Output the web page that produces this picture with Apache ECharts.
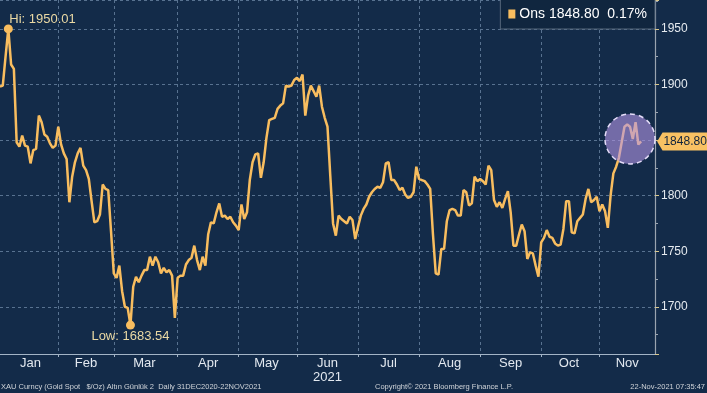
<!DOCTYPE html>
<html><head><meta charset="utf-8">
<script src="https://cdn.jsdelivr.net/npm/echarts@6/dist/echarts.min.js"></script>
<style>html,body{margin:0;padding:0;background:#132b49;} #c{width:707px;height:393px;}</style>
</head><body><div id="c"></div>
<script>
// ---- data (XAU spot, daily, weekdays) ----
const seriesName = 'Ons';
const dec2020 = [1898];
const jan = [1899, 1925, 1950.01, 1918, 1914, 1848, 1844, 1854, 1845, 1844, 1829, 1841, 1842, 1872, 1866, 1855, 1853, 1847, 1843, 1845];
const feb = [1862, 1846, 1838, 1833, 1794, 1817, 1830, 1838, 1843, 1827, 1823, 1815, 1795, 1776, 1777, 1783, 1810, 1806, 1805, 1768];
const mar = [1730, 1726, 1737, 1714, 1700, 1699, 1683.54, 1718, 1727, 1722, 1728, 1733, 1733, 1745, 1737, 1745, 1740, 1730, 1735, 1731, 1733, 1728, 1690];
const apr = [1726, 1728, 1728, 1738, 1742, 1744, 1755, 1742, 1733, 1745, 1737, 1765, 1776, 1775, 1785, 1793, 1781, 1782, 1779, 1781, 1776, 1773];
const may = [1769, 1792, 1779, 1785, 1814, 1830, 1837, 1838, 1816, 1830, 1852, 1868, 1869, 1870, 1878, 1881, 1883, 1899, 1898, 1899, 1904];
const jun = [1906, 1903, 1909, 1872, 1890, 1899, 1894, 1889, 1899, 1880, 1870, 1862, 1818, 1775, 1764, 1782, 1779, 1777, 1775, 1781, 1778, 1761];
const jul = [1772, 1782, 1788, 1792, 1799, 1803, 1806, 1808, 1807, 1812, 1829, 1830, 1814, 1814, 1810, 1805, 1807, 1801, 1798, 1799, 1803, 1826];
const aug = [1815, 1814, 1813, 1810, 1806, 1765, 1730, 1729, 1752, 1752, 1777, 1787, 1788, 1787, 1782, 1782, 1805, 1803, 1791, 1793, 1817, 1813];
const sep = [1815, 1813, 1810, 1827, 1823, 1796, 1790, 1794, 1789, 1797, 1804, 1785, 1755, 1755, 1765, 1774, 1768, 1743, 1749, 1748, 1737, 1727];
const oct = [1758, 1762, 1769, 1763, 1762, 1757, 1755, 1756, 1770, 1795, 1795, 1767, 1766, 1777, 1780, 1783, 1797, 1806, 1794, 1796, 1799];
const nov = [1786, 1792, 1786, 1771, 1800, 1820, 1826, 1834, 1848, 1862, 1864, 1862, 1851, 1866, 1846, 1848.80];
const monthNames = ['Jan','Feb','Mar','Apr','May','Jun','Jul','Aug','Sep','Oct','Nov'];
const yearLabel = '2021';
const pctChange = '0.17%';
const highlightDate = '2021-11-16';
const highlightValue = 1851;
const footerLeft = 'XAU Curncy (Gold Spot   $/Oz) Altın Günlük 2  Daily 31DEC2020-22NOV2021';
const footerMid = 'Copyright\u00A9 2021 Bloomberg Finance L.P.';
const footerRight = '22-Nov-2021 07:35:47';
const holidays = ['2021-01-01'];

// ---- categories: weekdays 31DEC2020 .. 29NOV2021 ----
const categories = [];
for (let d = Date.UTC(2020,11,31); d <= Date.UTC(2021,10,29); d += 86400000) {
  const dt = new Date(d), wd = dt.getUTCDay();
  if (wd === 0 || wd === 6) continue;
  const s = dt.toISOString().slice(0,10);
  if (holidays.includes(s)) continue;
  categories.push(s);
}
const values = [].concat(dec2020, jan, feb, mar, apr, may, jun, jul, aug, sep, oct, nov);
const lastIdx = values.length - 1;
const lastValue = values[lastIdx];

// month boundaries and label positions
const monthRange = {};
categories.forEach((c, i) => {
  const k = c.slice(0,7);
  if (!monthRange[k]) monthRange[k] = [i, i]; else monthRange[k][1] = i;
});
const boundarySet = new Set();
const labelMap = new Map();
Object.keys(monthRange).forEach(k => {
  if (!k.startsWith('2021')) return;
  const m = parseInt(k.slice(5,7), 10) - 1;
  const [a, b] = monthRange[k];
  if (m > 0) boundarySet.add(a);
  const name = monthNames[m];
  labelMap.set(Math.ceil((a + b) / 2), name === 'Jun' ? name + '\n' + yearLabel : name);
});

const FONT = "'Liberation Sans', Arial, sans-serif";
const GRIDC = '#587290';
const LINEC = '#f8bd5f';

const chart = echarts.init(document.getElementById('c'), null, {renderer: 'canvas'});
chart.setOption({
  backgroundColor: '#132b49',
  animation: false,
  textStyle: {fontFamily: FONT},
  grid: {left: 0, right: 52, top: 0, bottom: 39, containLabel: false},
  title: [
    {text: footerLeft, left: 1, top: 383, padding: 0, textStyle: {color: '#cfd3d8', fontSize: 7.5, fontWeight: 'normal', fontFamily: FONT}},
    {text: footerMid, left: 375, top: 383, padding: 0, textStyle: {color: '#cfd3d8', fontSize: 7.5, fontWeight: 'normal', fontFamily: FONT}},
    {text: footerRight, right: 2, top: 383, padding: 0, textStyle: {color: '#cfd3d8', fontSize: 7.5, fontWeight: 'normal', fontFamily: FONT}}
  ],
  legend: {
    data: [seriesName], right: 52, top: -1, padding: [8, 8, 8, 8],
    backgroundColor: '#10263f', borderColor: '#55667a', borderWidth: 1,
    icon: 'rect', itemWidth: 7, itemHeight: 9, itemGap: 4,
    textStyle: {color: '#ffffff', fontSize: 14, fontFamily: FONT, padding: [0, 0, 0, -1]},
    formatter: (n) => n + ' ' + lastValue.toFixed(2) + '  ' + pctChange
  },
  xAxis: {
    type: 'category', data: categories, boundaryGap: false,
    axisLine: {show: true, lineStyle: {color: '#a3b4c6', width: 1}},
    axisTick: {show: true, length: 3, interval: (i) => boundarySet.has(i), lineStyle: {color: '#a3b4c6'}},
    axisLabel: {
      interval: (i) => labelMap.has(i), formatter: (v, i) => labelMap.get(i) || '',
      color: '#e3e9f0', fontSize: 13, margin: 2, lineHeight: 14, fontFamily: FONT
    },
    splitLine: {show: true, interval: (i) => boundarySet.has(i), lineStyle: {color: GRIDC, type: [3, 3], width: 1}}
  },
  yAxis: {
    type: 'value', position: 'right', min: 1657.5, max: 1976, splitNumber: 5, scale: true,
    axisLine: {show: true, lineStyle: {color: '#9aa4b0', width: 1.2}},
    axisTick: {show: true, length: 4, lineStyle: {color: '#d9c88e'}},
    minorTick: {show: true, splitNumber: 2, length: 3, lineStyle: {color: '#9aa4b0'}},
    axisLabel: {color: '#e6ebf0', fontSize: 12, margin: 6, showMinLabel: false, showMaxLabel: false, fontFamily: FONT,
      formatter: (v) => String(v)},
    splitLine: {show: true, lineStyle: {color: GRIDC, type: [3, 3], width: 1}}
  },
  series: [{
    name: seriesName, type: 'line', data: values, symbol: 'none', showSymbol: false,
    lineStyle: {color: LINEC, width: 2.5}, itemStyle: {color: LINEC},
    markPoint: {
      animation: false, symbol: 'circle', symbolSize: 9, itemStyle: {color: LINEC},
      data: [
        {type: 'max', label: {show: true, position: [5.5, -4.5], align: 'left', verticalAlign: 'middle',
          color: '#ead9a4', fontSize: 13, fontFamily: FONT, formatter: (p) => 'Hi: ' + p.value.toFixed(2)}},
        {type: 'min', label: {show: true, position: [4.5, 16], align: 'center', verticalAlign: 'middle',
          color: '#ead9a4', fontSize: 13, fontFamily: FONT, formatter: (p) => 'Low: ' + p.value.toFixed(2)}},
        {coord: [highlightDate, highlightValue], symbol: 'circle', symbolSize: 50,
          itemStyle: {color: 'rgba(180,150,230,0.6)', borderColor: '#e4dcf8', borderWidth: 1.5, borderType: [5, 4]},
          label: {show: false}},
        {coord: [categories[lastIdx], lastValue], symbol: 'path://M0,9L6,0L60,0L60,18L6,18Z',
          symbolSize: [54, 18], symbolKeepAspect: false, symbolOffset: [43, 0],
          itemStyle: {color: '#f8c163'},
          label: {show: true, position: 'inside', offset: [1, 0], color: '#10233d', fontSize: 12, fontFamily: FONT,
            formatter: () => lastValue.toFixed(2)}}
      ]
    }
  }]
});
</script></body></html>
